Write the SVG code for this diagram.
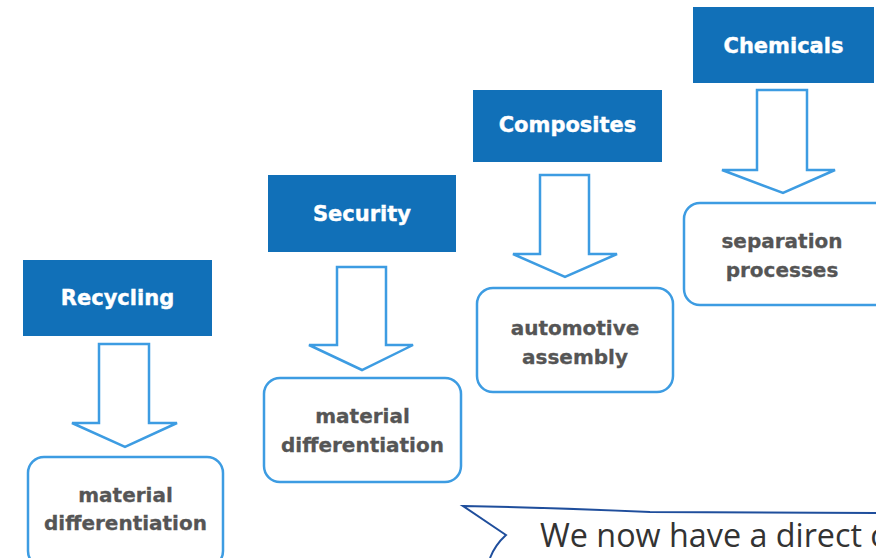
<svg xmlns="http://www.w3.org/2000/svg" width="876" height="558" viewBox="0 0 876 558">
<style>
.hdr{fill:#1170b8}
.hdrt{font-family:"DejaVu Sans",sans-serif;font-weight:bold;font-size:21px;fill:#ffffff;text-anchor:middle;stroke:#ffffff;stroke-width:0.4}
.box{fill:#ffffff;stroke:#3d9ce2;stroke-width:2.5}
.boxt{font-family:"DejaVu Sans",sans-serif;font-weight:bold;font-size:20px;fill:#555555;text-anchor:middle;stroke:#555555;stroke-width:0.3}
.arr{fill:#ffffff;stroke:#3d9ce2;stroke-width:2.5;stroke-linejoin:miter}
.call{fill:none;stroke:#1f4e9c;stroke-width:2}
.callt{font-family:"Open Sans",sans-serif;font-size:32.3px;fill:#333333}
</style>
<rect width="876" height="558" fill="#ffffff"/>
<g id="connectors">
<path class="arr" d="M99 344 H149 V423 H177 L125 447 L72 423 H99 Z"/>
<path class="arr" d="M337 267 H386 V345 H413 L362 370 L309 345 H337 Z"/>
<path class="arr" d="M540 175 H589 V254 H617 L565 277 L513 254 H540 Z"/>
<path class="arr" d="M757 90 H807 V170 H835 L783 193 L722 170 H757 Z"/>
</g>
<g id="recycling">
<rect class="hdr" x="23" y="260" width="189" height="76"/>
<text class="hdrt" x="117.5" y="305">Recycling</text>
</g>
<g id="recycling-out">
<rect class="box" x="28" y="457" width="195" height="110" rx="16"/>
<text class="boxt" x="125.5" y="502">material</text>
<text class="boxt" x="125.5" y="530">differentiation</text>
</g>
<g id="security">
<rect class="hdr" x="268" y="175" width="188" height="77"/>
<text class="hdrt" x="362" y="221">Security</text>
</g>
<g id="security-out">
<rect class="box" x="264" y="378" width="197" height="104" rx="16"/>
<text class="boxt" x="362.5" y="423">material</text>
<text class="boxt" x="362.5" y="452">differentiation</text>
</g>
<g id="composites">
<rect class="hdr" x="473" y="90" width="189" height="72"/>
<text class="hdrt" x="567.5" y="132">Composites</text>
</g>
<g id="composites-out">
<rect class="box" x="477" y="288" width="196" height="104" rx="16"/>
<text class="boxt" x="575" y="335">automotive</text>
<text class="boxt" x="575" y="364">assembly</text>
</g>
<g id="chemicals">
<rect class="hdr" x="693" y="7" width="181" height="76"/>
<text class="hdrt" x="783.5" y="53">Chemicals</text>
</g>
<g id="chemicals-out">
<rect class="box" x="684" y="203" width="206" height="102" rx="16"/>
<text class="boxt" x="782" y="248">separation</text>
<text class="boxt" x="782" y="277">processes</text>
</g>
<g id="callout">
<path class="call" d="M876 513 L650 512 Q560 508 463 506 L506 535 Q495 545 490 558"/>
<text class="callt" x="540" y="547">We now have a direct c</text>
</g>
</svg>
